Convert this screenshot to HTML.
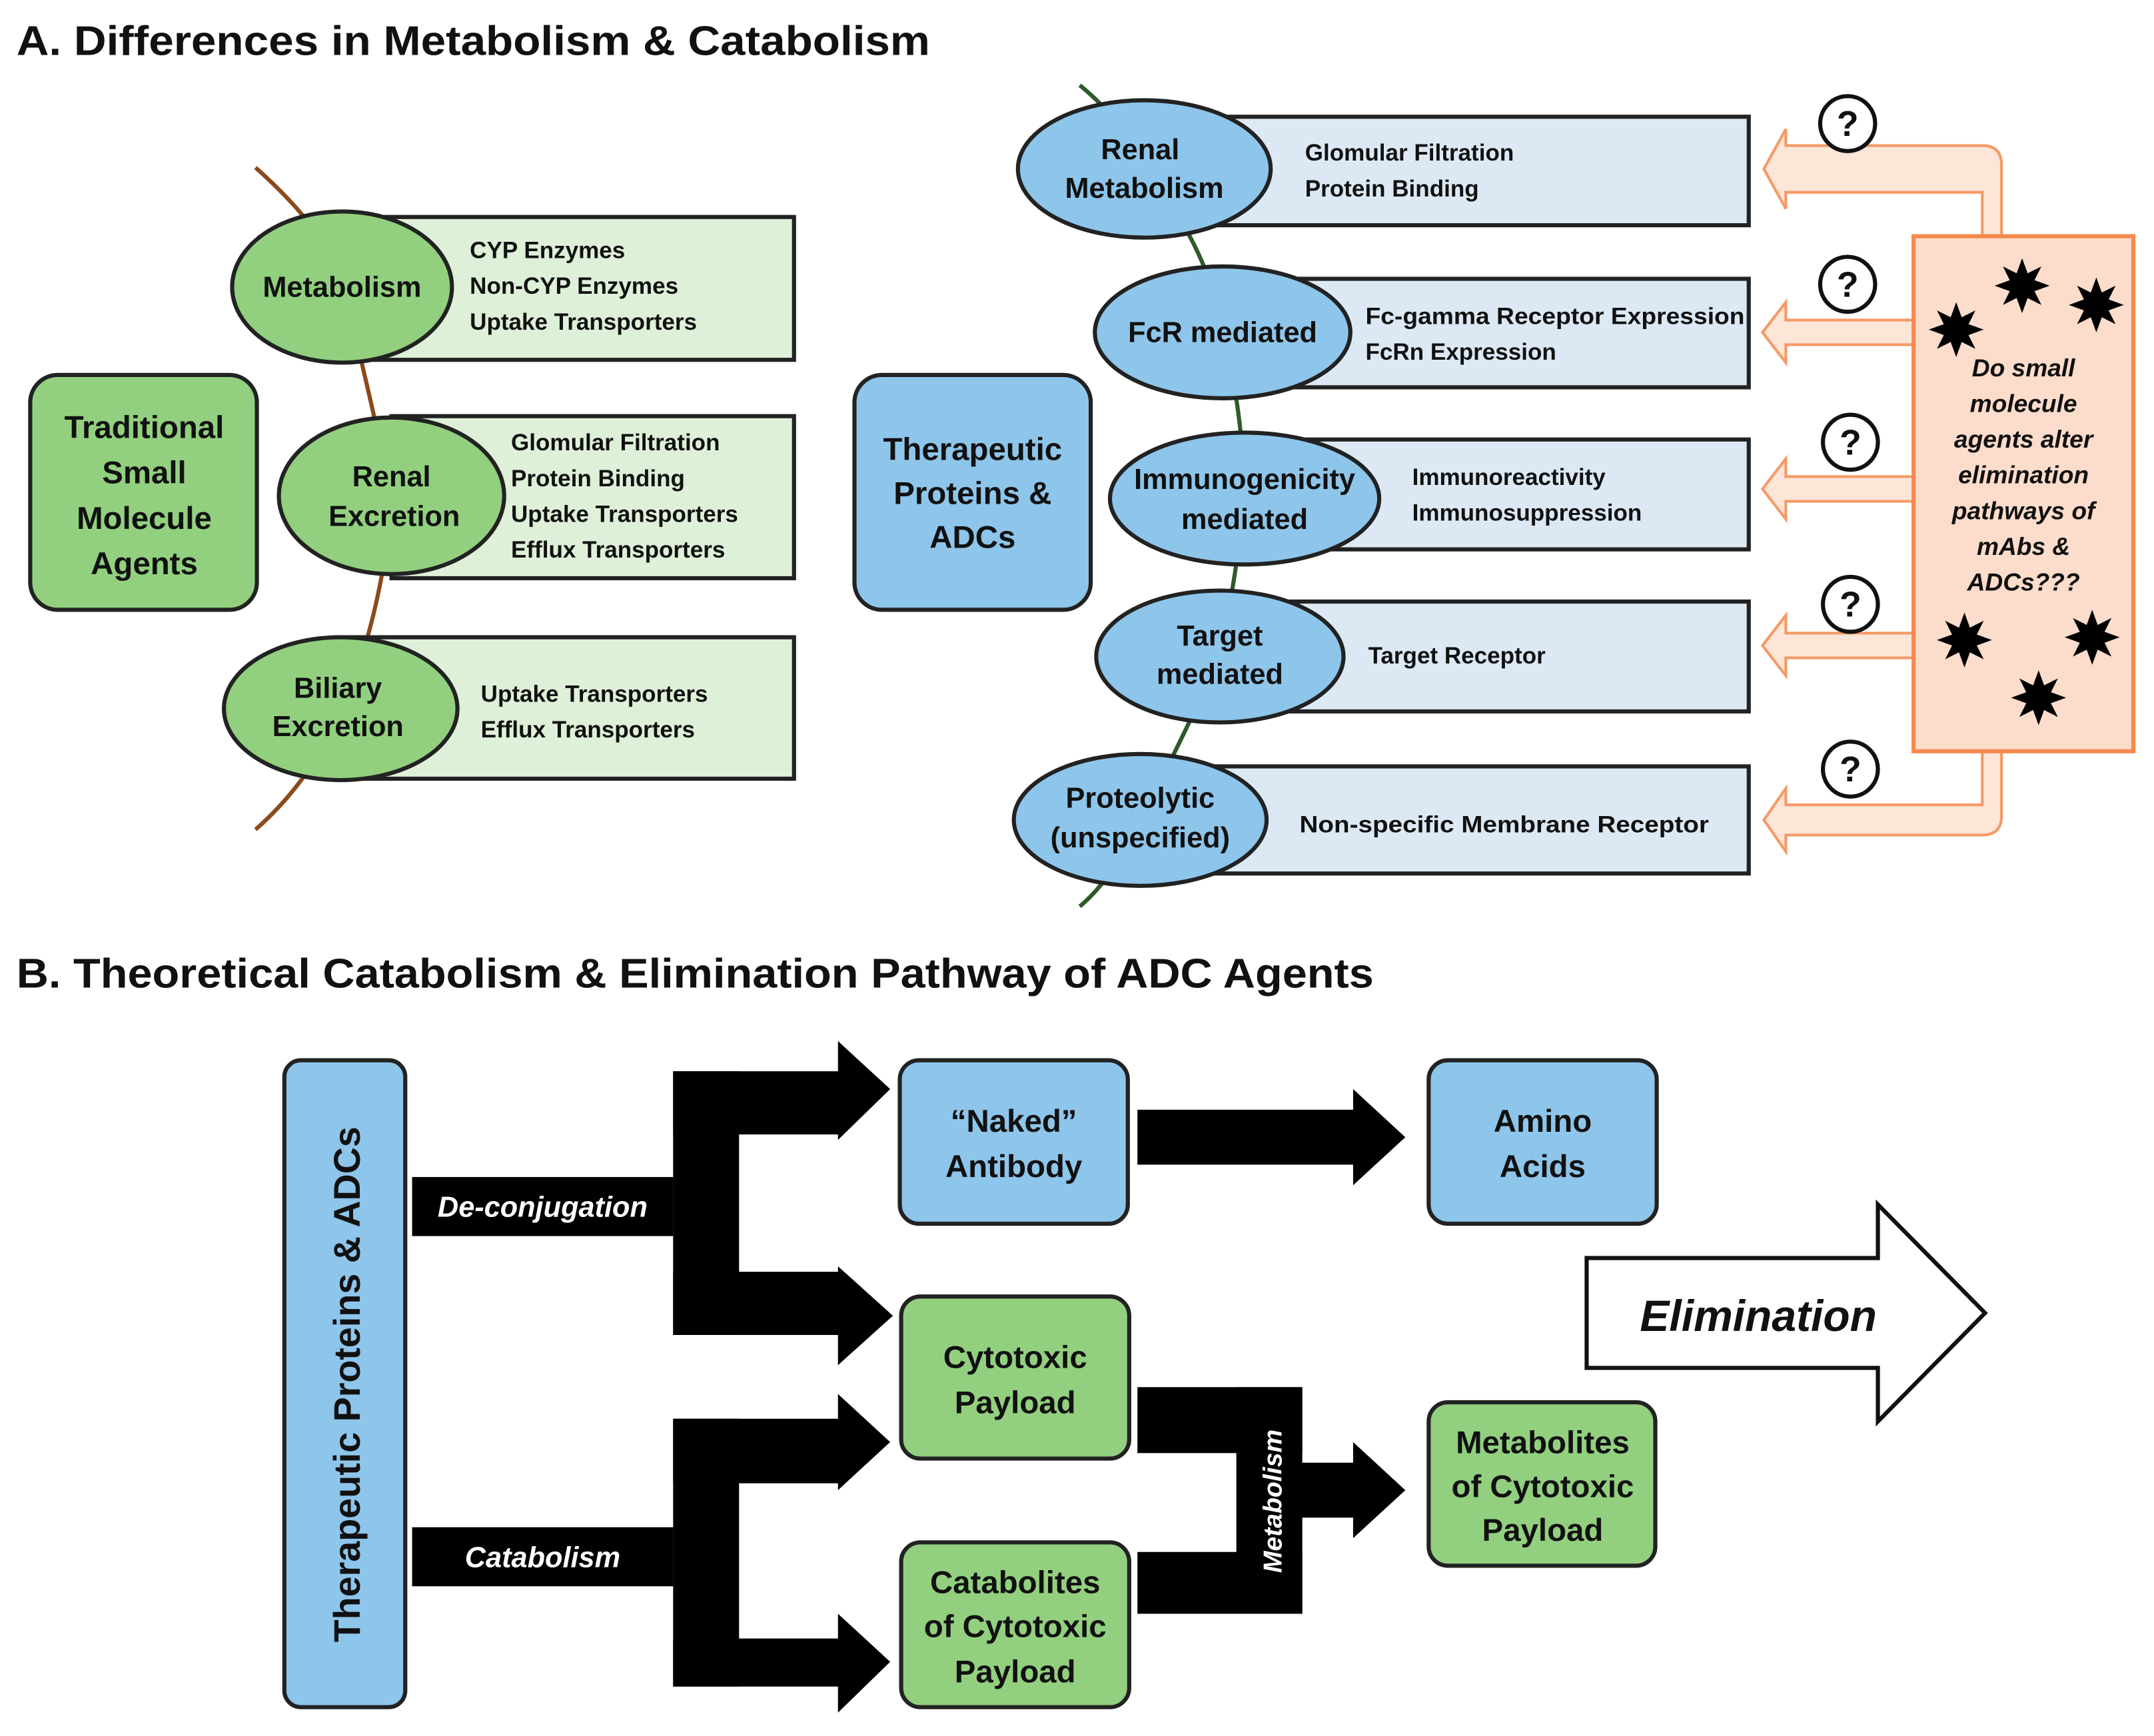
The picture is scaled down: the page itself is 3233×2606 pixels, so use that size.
<!DOCTYPE html>
<html><head><meta charset="utf-8"><style>
html,body{margin:0;padding:0;background:#fff}
svg{display:block}
text{font-family:"Liberation Sans","DejaVu Sans",sans-serif}
</style></head><body>
<svg width="3233" height="2606" viewBox="0 0 1568 1264" preserveAspectRatio="none" xmlns="http://www.w3.org/2000/svg">
<defs>
<g id="star"><polygon points="0,-20 4,-9 14,-14 9,-4 20,0 9,4 14,14 4,9 0,20 -4,9 -14,14 -9,4 -20,0 -9,-4 -14,-14 -4,-9" fill="#000"/><circle r="9" fill="#000"/></g>
</defs>
<rect width="1568" height="1264" fill="#fff"/>
<text x="12" y="40" font-size="30" font-weight="bold" fill="#111" textLength="665" lengthAdjust="spacingAndGlyphs">A. Differences in Metabolism &amp; Catabolism</text>

<!-- Left side -->
<path d="M186,122 Q240,170 250,209 Q270,290 285,361 Q280,440 250,516 Q225,570 186,604" fill="none" stroke="#8B4A1C" stroke-width="3"/>
<rect x="22" y="273" width="165" height="171" rx="20" fill="#92d07f" stroke="#222" stroke-width="3"/>
<g font-size="23" font-weight="bold" fill="#111" text-anchor="middle">
<text x="105" y="319">Traditional</text><text x="105" y="352">Small</text><text x="105" y="385">Molecule</text><text x="105" y="418">Agents</text></g>
<g fill="#dff0d8" stroke="#222" stroke-width="3">
<rect x="249" y="158" width="329" height="104"/>
<rect x="285" y="303" width="293" height="118"/>
<rect x="248" y="464" width="330" height="103"/>
</g>
<g fill="#92d07f" stroke="#222" stroke-width="3">
<ellipse cx="249" cy="209" rx="80" ry="55"/>
<ellipse cx="285" cy="361" rx="82" ry="57"/>
<ellipse cx="248" cy="516" rx="85" ry="52"/>
</g>
<g font-size="21" font-weight="bold" fill="#111" text-anchor="middle">
<text x="249" y="216">Metabolism</text>
<text x="285" y="354">Renal</text><text x="287" y="383">Excretion</text>
<text x="246" y="508">Biliary</text><text x="246" y="536">Excretion</text>
</g>
<g font-size="17" font-weight="bold" fill="#111">
<text x="342" y="188">CYP Enzymes</text><text x="342" y="214">Non-CYP Enzymes</text><text x="342" y="240">Uptake Transporters</text>
<text x="372" y="328">Glomular Filtration</text><text x="372" y="354">Protein Binding</text><text x="372" y="380">Uptake Transporters</text><text x="372" y="406">Efflux Transporters</text>
<text x="350" y="511">Uptake Transporters</text><text x="350" y="537">Efflux Transporters</text>
</g>

<!-- Right side -->
<path d="M786,62 Q820,90 833,123 Q880,180 890,242 Q905,300 906,363 Q900,420 888,478 Q860,540 830,597 Q810,640 786,660" fill="none" stroke="#2f5a2a" stroke-width="3"/>
<rect x="622" y="273" width="172" height="171" rx="20" fill="#8ec5ea" stroke="#222" stroke-width="3"/>
<g font-size="23" font-weight="bold" fill="#111" text-anchor="middle">
<text x="708" y="335">Therapeutic</text><text x="708" y="367">Proteins &amp;</text><text x="708" y="399">ADCs</text></g>
<g fill="#dce9f5" stroke="#222" stroke-width="3">
<rect x="833" y="85" width="440" height="79"/>
<rect x="890" y="203" width="383" height="79"/>
<rect x="906" y="320" width="367" height="80"/>
<rect x="888" y="438" width="385" height="80"/>
<rect x="830" y="558" width="443" height="78"/>
</g>
<g fill="#8ec5ea" stroke="#222" stroke-width="3">
<ellipse cx="833" cy="123" rx="92" ry="50"/>
<ellipse cx="890" cy="242" rx="93" ry="48"/>
<ellipse cx="906" cy="363" rx="98" ry="48"/>
<ellipse cx="888" cy="478" rx="90" ry="48"/>
<ellipse cx="830" cy="597" rx="92" ry="48"/>
</g>
<g font-size="21" font-weight="bold" fill="#111" text-anchor="middle">
<text x="830" y="116">Renal</text><text x="833" y="144">Metabolism</text>
<text x="890" y="249">FcR mediated</text>
<text x="906" y="356">Immunogenicity</text><text x="906" y="385">mediated</text>
<text x="888" y="470">Target</text><text x="888" y="498">mediated</text>
<text x="830" y="588">Proteolytic</text><text x="830" y="617">(unspecified)</text>
</g>
<g font-size="17" font-weight="bold" fill="#111">
<text x="950" y="117">Glomular Filtration</text><text x="950" y="143">Protein Binding</text>
<text x="994" y="236" textLength="276" lengthAdjust="spacingAndGlyphs">Fc-gamma Receptor Expression</text><text x="994" y="262">FcRn Expression</text>
<text x="1028" y="353">Immunoreactivity</text><text x="1028" y="379">Immunosuppression</text>
<text x="996" y="483">Target Receptor</text>
<text x="946" y="606" textLength="298" lengthAdjust="spacingAndGlyphs">Non-specific Membrane Receptor</text>
</g>

<!-- orange arrows -->
<g fill="#fde5d8" stroke="#f59a66" stroke-width="2">
<path d="M1443,172 L1443,140 L1300,140 L1300,152 L1284,123 L1300,94 L1300,106 L1443,106 Q1457,106 1457,120 L1457,172 Z" fill="#fde5d8"/>
<path d="M1393,233 L1300,233 L1300,220 L1283,242 L1300,264 L1300,251 L1393,251 Z"/>
<path d="M1393,347 L1300,347 L1300,334 L1283,356 L1300,378 L1300,365 L1393,365 Z"/>
<path d="M1393,461 L1300,461 L1300,448 L1283,470 L1300,492 L1300,479 L1393,479 Z"/>
<path d="M1443,547 L1443,586 L1300,586 L1300,574 L1284,597 L1300,620 L1300,608 L1443,608 Q1457,608 1457,594 L1457,547 Z"/>
</g>
<rect x="1393" y="172" width="160" height="375" fill="#fcdccb" stroke="#f58a4e" stroke-width="3"/>
<g font-size="18" font-weight="bold" font-style="italic" fill="#111" text-anchor="middle">
<text x="1473" y="274">Do small</text><text x="1473" y="300">molecule</text><text x="1473" y="326">agents alter</text><text x="1473" y="352">elimination</text><text x="1473" y="378">pathways of</text><text x="1473" y="404">mAbs &amp;</text><text x="1473" y="430">ADCs???</text>
</g>
<use href="#star" x="1472" y="208"/><use href="#star" x="1526" y="222"/><use href="#star" x="1424" y="240"/>
<use href="#star" x="1430" y="466"/><use href="#star" x="1523" y="464"/><use href="#star" x="1484" y="508"/>
<g fill="#fff" stroke="#111" stroke-width="3">
<circle cx="1345" cy="90" r="20"/><circle cx="1345" cy="207" r="20"/><circle cx="1347" cy="322" r="20"/><circle cx="1347" cy="440" r="20"/><circle cx="1347" cy="560" r="20"/>
</g>
<g font-size="26" font-weight="bold" fill="#111" text-anchor="middle">
<text x="1345" y="99">?</text><text x="1345" y="216">?</text><text x="1347" y="331">?</text><text x="1347" y="449">?</text><text x="1347" y="569">?</text>
</g>

<!-- Section B -->
<text x="12" y="719" font-size="30" font-weight="bold" fill="#111" textLength="988" lengthAdjust="spacingAndGlyphs">B. Theoretical Catabolism &amp; Elimination Pathway of ADC Agents</text>
<rect x="207" y="772" width="88" height="471" rx="12" fill="#8ec5ea" stroke="#222" stroke-width="3"/>
<text transform="translate(262,1008) rotate(-90)" font-size="27" font-weight="bold" fill="#111" text-anchor="middle">Therapeutic Proteins &amp; ADCs</text>
<rect x="300" y="857" width="190" height="43" fill="#000"/>
<rect x="300" y="1112" width="190" height="43" fill="#000"/>
<g font-size="21" font-weight="bold" font-style="italic" fill="#fff" text-anchor="middle">
<text x="395" y="886">De-conjugation</text><text x="395" y="1141">Catabolism</text></g>
<g fill="#000">
<rect x="490" y="780" width="48" height="192"/>
<rect x="490" y="780" width="122" height="46"/>
<polygon points="610,758 648,793 610,830"/>
<rect x="490" y="926" width="122" height="46"/>
<polygon points="610,922 650,958 610,994"/>
<rect x="490" y="1033" width="48" height="195"/>
<rect x="490" y="1033" width="122" height="47"/>
<polygon points="610,1015 648,1050 610,1085"/>
<rect x="490" y="1193" width="122" height="35"/>
<polygon points="610,1175 648,1210 610,1247"/>
<rect x="828" y="808" width="158" height="40"/>
<polygon points="985,793 1023,828 985,863"/>
<rect x="828" y="1010" width="120" height="48"/>
<rect x="900" y="1010" width="48" height="165"/>
<rect x="828" y="1130" width="120" height="45"/>
<rect x="940" y="1065" width="46" height="40"/>
<polygon points="985,1050 1023,1085 985,1120"/>
</g>
<text transform="translate(933,1093) rotate(-90)" font-size="19" font-weight="bold" font-style="italic" fill="#fff" text-anchor="middle">Metabolism</text>
<g stroke="#222" stroke-width="3">
<rect x="655" y="772" width="166" height="119" rx="14" fill="#8ec5ea"/>
<rect x="1040" y="772" width="166" height="119" rx="14" fill="#8ec5ea"/>
<rect x="656" y="944" width="166" height="118" rx="14" fill="#92d07f"/>
<rect x="656" y="1123" width="166" height="120" rx="14" fill="#92d07f"/>
<rect x="1040" y="1021" width="165" height="119" rx="14" fill="#92d07f"/>
</g>
<g font-size="23" font-weight="bold" fill="#111" text-anchor="middle">
<text x="738" y="824">“Naked”</text><text x="738" y="857">Antibody</text>
<text x="1123" y="824">Amino</text><text x="1123" y="857">Acids</text>
<text x="739" y="996">Cytotoxic</text><text x="739" y="1029">Payload</text>
<text x="739" y="1160">Catabolites</text><text x="739" y="1192">of Cytotoxic</text><text x="739" y="1225">Payload</text>
<text x="1123" y="1058">Metabolites</text><text x="1123" y="1090">of Cytotoxic</text><text x="1123" y="1122">Payload</text>
</g>
<polygon points="1155,916 1367,916 1367,877 1445,956 1367,1035 1367,996 1155,996" fill="#fff" stroke="#111" stroke-width="3"/>
<text x="1280" y="969" font-size="32" font-weight="bold" font-style="italic" fill="#111" text-anchor="middle">Elimination</text>
</svg>
</body></html>
